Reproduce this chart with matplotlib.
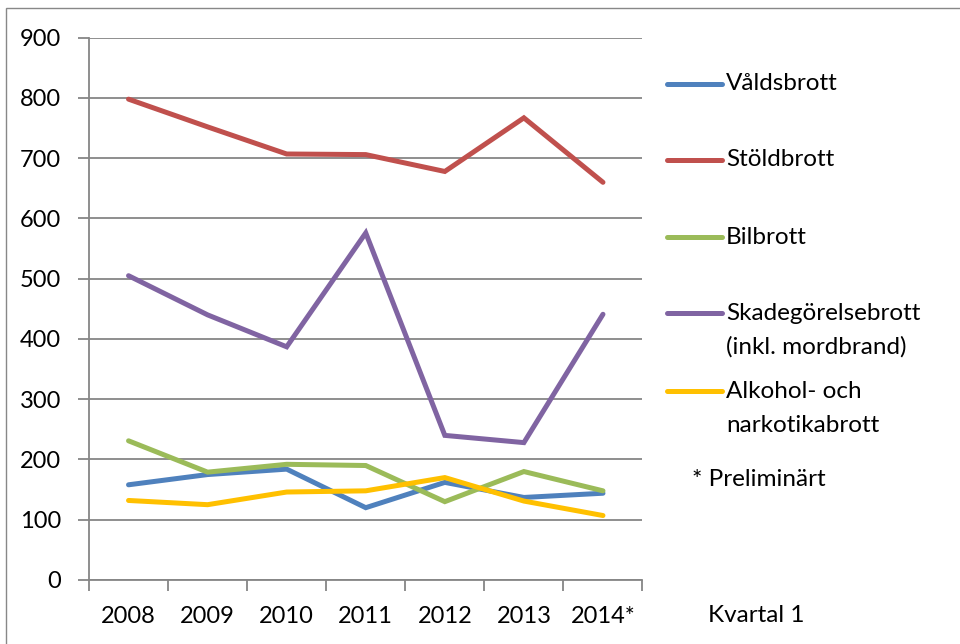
import matplotlib
matplotlib.use("Agg")
import matplotlib.pyplot as plt
from matplotlib.lines import Line2D
from matplotlib.patches import Rectangle

plt.rcParams['font.family'] = ['Lato', 'DejaVu Sans']

years = ["2008", "2009", "2010", "2011", "2012", "2013", "2014*"]
valdsbrott = [158, 175, 184, 120, 162, 137, 144]
stoldbrott = [798, 752, 707, 706, 678, 767, 660]
bilbrott = [231, 179, 192, 190, 130, 180, 148]
skadegorelse = [505, 440, 387, 576, 240, 228, 441]
alkohol = [132, 125, 146, 148, 170, 131, 107]

series_names = ["Våldsbrott", "Stöldbrott", "Bilbrott",
                "Skadegörelsebrott\n(inkl. mordbrand)", "Alkohol- och\nnarkotikabrott"]
series_vals = [valdsbrott, stoldbrott, bilbrott, skadegorelse, alkohol]
colors = ["#4F81BD", "#C0504D", "#9BBB59", "#8064A2", "#FFC000"]
y_ticks = list(range(0, 1000, 100))

W, H = 960, 644
fig = plt.figure(figsize=(W / 100, H / 100), dpi=100)
ax = fig.add_axes([89 / W, (H - 580) / H, (642.5 - 89) / W, (580 - 37.7) / H])

x = list(range(len(years)))
for vals, c in zip(series_vals, colors):
    ax.plot(x, vals, color=c, lw=3.6, solid_capstyle='round', solid_joinstyle='miter', zorder=3)

grid_c = "#868686"
ax.set_xlim(-0.5, len(years) - 0.5)
ax.set_ylim(0, 900)
ax.set_yticks(y_ticks)
ax.set_yticklabels([str(v) for v in y_ticks])
for v in y_ticks:
    ax.axhline(v, color=grid_c, lw=1.3, zorder=1)

ax.set_xticks([i - 0.5 for i in range(len(years) + 1)])
ax.set_xticklabels([])
ax.set_xticks(x, minor=True)
ax.set_xticklabels(years, minor=True)
ax.tick_params(axis='x', which='major', length=8, width=1.3, color=grid_c, direction='out')
ax.tick_params(axis='x', which='minor', length=0, pad=19, labelsize=17)
ax.tick_params(axis='y', length=8, width=1.3, color=grid_c, direction='out', pad=12, labelsize=17)

for s in ['top', 'right']:
    ax.spines[s].set_visible(False)
ax.spines['left'].set_color(grid_c)
ax.spines['left'].set_linewidth(1.3)
ax.spines['bottom'].set_color(grid_c)
ax.spines['bottom'].set_linewidth(1.3)

# manual legend
legend_y = [84, 160, 237, 313, 391]
for name, c, yy in zip(series_names, colors, legend_y):
    fy = 1 - yy / H
    fig.add_artist(Line2D([667 / W, 722 / W], [fy, fy], color=c, lw=3.6,
                          solid_capstyle='round', transform=fig.transFigure))
    lines = name.split("\n")
    for k, ln in enumerate(lines):
        fig.text(726 / W, 1 - (yy + k * 34) / H, ln, fontsize=17.5, va='center', ha='left')

fig.text(692 / W, 1 - 480 / H, "* Preliminärt", fontsize=17.5, va='center', ha='left')
fig.text(708 / W, 1 - 616 / H, "Kvartal 1", fontsize=17.5, va='center', ha='left')

fig.add_artist(Rectangle((6 / W, -0.1), 1.5, 1 - 8 / H + 0.1, fill=False,
                         edgecolor="#888888", lw=1, transform=fig.transFigure))

fig.savefig("out.png", dpi=100)
